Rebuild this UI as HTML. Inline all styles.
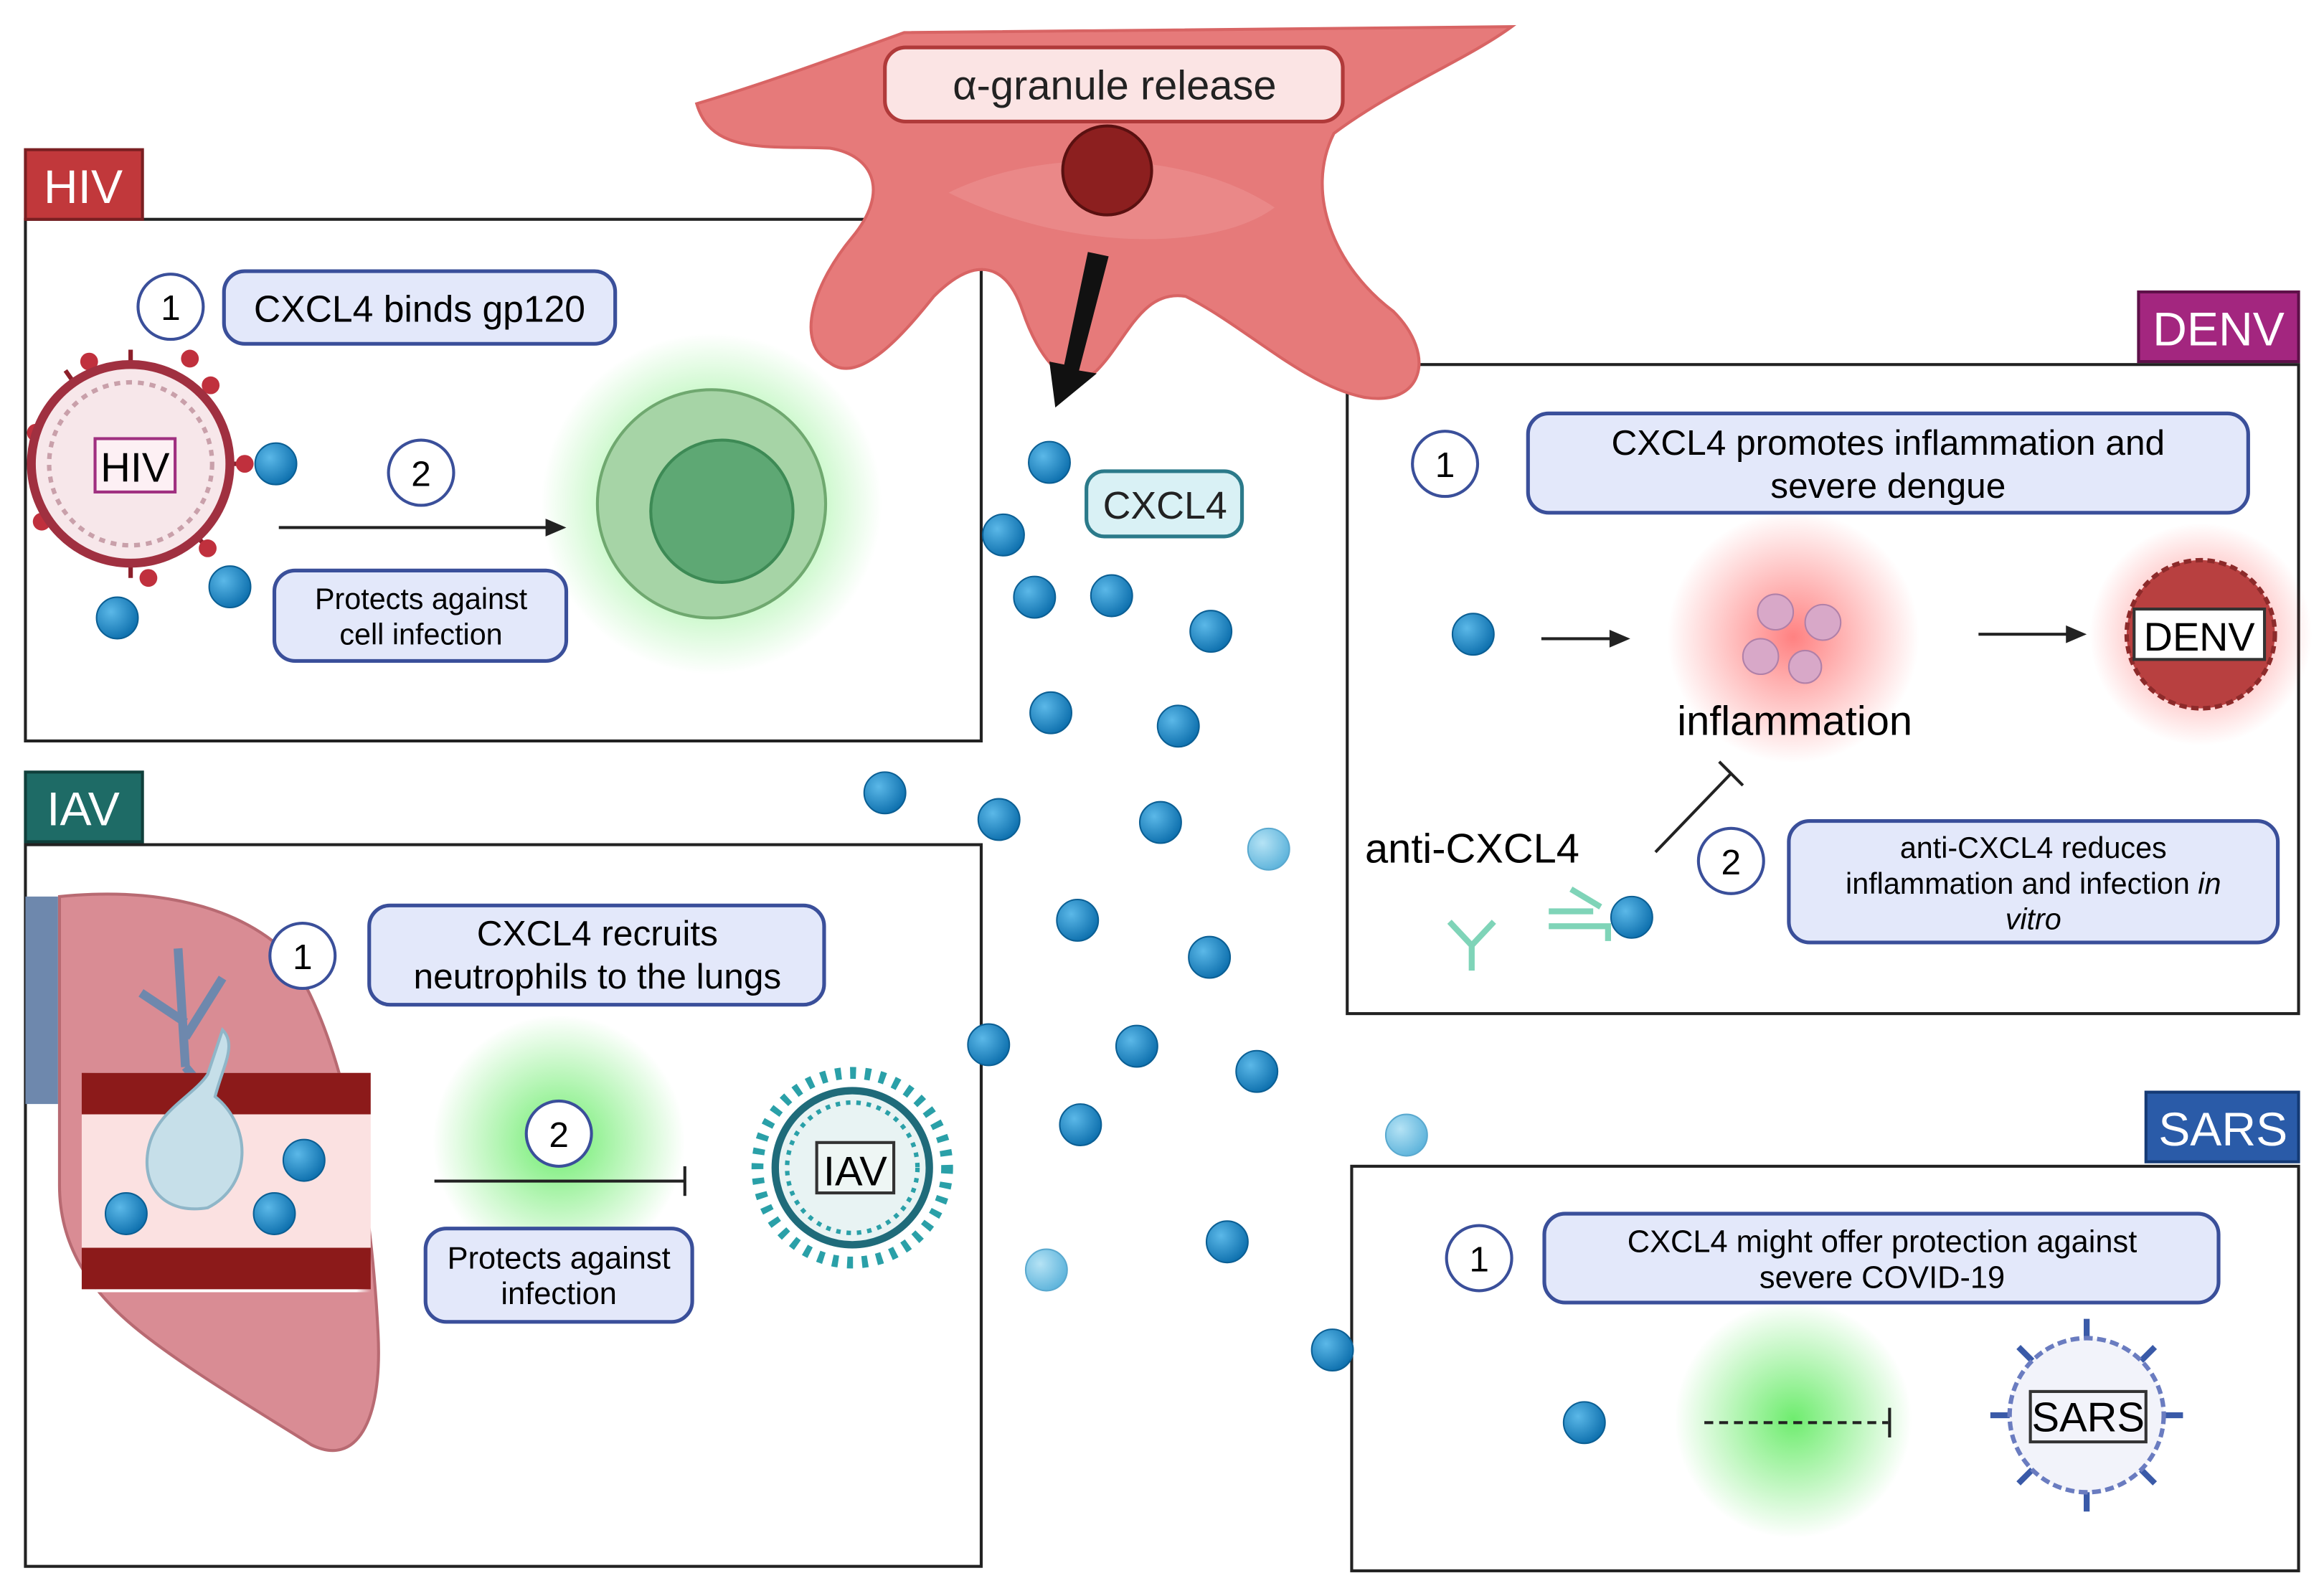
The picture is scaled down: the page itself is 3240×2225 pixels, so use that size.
<!DOCTYPE html>
<html><head><meta charset="utf-8"><style>
html,body{margin:0;padding:0;background:#fff}
svg{display:block}
text{font-family:"Liberation Sans",sans-serif}
</style></head><body>
<svg width="3240" height="2225" viewBox="0 0 1568 1077" xmlns="http://www.w3.org/2000/svg">
<defs>
<radialGradient id="dot" cx="35%" cy="35%" r="70%"><stop offset="0" stop-color="#5bb8e8"/><stop offset="1" stop-color="#0d6fad"/></radialGradient>
<radialGradient id="ldot" cx="35%" cy="35%" r="70%"><stop offset="0" stop-color="#b5e3f5"/><stop offset="1" stop-color="#5db3db"/></radialGradient>
<radialGradient id="gglow"><stop offset="0" stop-color="#3ee63e" stop-opacity=".75"/><stop offset="1" stop-color="#3ee63e" stop-opacity="0"/></radialGradient>
<radialGradient id="rglow"><stop offset="0" stop-color="#ff4b4b" stop-opacity=".7"/><stop offset="1" stop-color="#ff4b4b" stop-opacity="0"/></radialGradient>
<linearGradient id="band" x1="0" x2="1"><stop offset="0" stop-color="#fff" stop-opacity="0"/><stop offset=".05" stop-color="#fff" stop-opacity="1"/><stop offset=".95" stop-color="#fff" stop-opacity="1"/><stop offset="1" stop-color="#fff" stop-opacity="0"/></linearGradient>
</defs>
<rect width="1568" height="1077" fill="#fff"/>

<rect x="17" y="148" width="645" height="352" fill="#fff" stroke="#222" stroke-width="2"/>
<rect x="17" y="570" width="645" height="487" fill="#fff" stroke="#222" stroke-width="2"/>
<rect x="909" y="246" width="642" height="438" fill="#fff" stroke="#222" stroke-width="2"/>
<rect x="912" y="787" width="639" height="273" fill="#fff" stroke="#222" stroke-width="2"/>

<rect x="17" y="101" width="79" height="47" fill="#c1383b" stroke="#7a1f22" stroke-width="2"/>
<text x="56" y="137" font-size="32" fill="#fff" text-anchor="middle">HIV</text>
<rect x="17" y="521" width="79" height="47" fill="#1e6b66" stroke="#0f3f3b" stroke-width="2"/>
<text x="56" y="557" font-size="32" fill="#fff" text-anchor="middle">IAV</text>
<rect x="1443" y="197" width="108" height="47" fill="#a3267f" stroke="#5e1049" stroke-width="2"/>
<text x="1497" y="233" font-size="32" fill="#fff" text-anchor="middle">DENV</text>
<rect x="1448" y="737" width="103" height="47" fill="#2a5ba8" stroke="#143a75" stroke-width="2"/>
<text x="1500" y="773" font-size="32" fill="#fff" text-anchor="middle">SARS</text>

<path d="M470,70 C520,55 560,40 610,22 L1020,18 C990,40 940,60 900,90 C880,130 900,180 940,210 C970,240 960,275 920,268 C880,260 840,220 800,200 C770,195 760,230 740,250 C720,268 700,240 690,210 C680,180 660,170 630,200 C610,225 580,260 560,245 C535,230 550,190 575,160 C600,130 590,105 560,100 C520,98 480,105 470,70 Z" fill="#e67a7a" stroke="#d86464" stroke-width="2"/>
<path d="M640,130 C700,100 800,100 860,140 C820,170 720,170 640,130Z" fill="#ee9595" opacity=".5"/>
<rect x="597" y="32" width="309" height="50" rx="14" fill="#fbe4e4" stroke="#b03a3a" stroke-width="2.5"/>
<text x="752" y="67" font-size="28" fill="#222" text-anchor="middle">α-granule release</text>
<circle cx="747" cy="115" r="30" fill="#8c1f1f" stroke="#5a1010" stroke-width="2"/>
<polygon points="734,170 748,173 728,250 740,252 712,275 708,244 718,246" fill="#111"/>

<rect x="733" y="318" width="105" height="44" rx="12" fill="#d9f1f5" stroke="#2b7a8a" stroke-width="2.5"/>
<text x="786" y="350" font-size="26" fill="#222" text-anchor="middle">CXCL4</text>

<g fill="url(#dot)" stroke="#0b5f94" stroke-width="1">
<circle cx="708" cy="312" r="14"/><circle cx="677" cy="361" r="14"/><circle cx="698" cy="403" r="14"/><circle cx="750" cy="402" r="14"/><circle cx="817" cy="426" r="14"/><circle cx="709" cy="481" r="14"/><circle cx="795" cy="490" r="14"/><circle cx="597" cy="535" r="14"/><circle cx="674" cy="553" r="14"/><circle cx="783" cy="555" r="14"/><circle cx="727" cy="621" r="14"/><circle cx="816" cy="646" r="14"/><circle cx="667" cy="705" r="14"/><circle cx="767" cy="706" r="14"/><circle cx="848" cy="723" r="14"/><circle cx="729" cy="759" r="14"/><circle cx="828" cy="838" r="14"/><circle cx="899" cy="911" r="14"/>
<circle cx="186" cy="313" r="14"/><circle cx="155" cy="396" r="14"/><circle cx="79" cy="417" r="14"/>
<circle cx="994" cy="428" r="14"/><circle cx="1101" cy="619" r="14"/><circle cx="1069" cy="960" r="14"/>
</g>
<g fill="url(#ldot)" stroke="#5aa9cf" stroke-width="1">
<circle cx="856" cy="573" r="14"/><circle cx="949" cy="766" r="14"/><circle cx="706" cy="857" r="14"/>
</g>

<circle cx="115" cy="207" r="22" fill="#fff" stroke="#3a4f9a" stroke-width="2"/>
<text x="115" y="216" font-size="24" text-anchor="middle">1</text>
<rect x="151" y="183" width="264" height="49" rx="14" fill="#e3e8fa" stroke="#3a4f9a" stroke-width="2.5"/>
<text x="283" y="217" font-size="25" text-anchor="middle">CXCL4 binds gp120</text>
<g stroke="#8c1f2a" stroke-width="3">
<line x1="88" y1="313" x2="88" y2="236"/><line x1="88" y1="313" x2="142" y2="260"/><line x1="88" y1="313" x2="165" y2="313"/><line x1="88" y1="313" x2="140" y2="370"/><line x1="88" y1="313" x2="88" y2="390"/><line x1="88" y1="313" x2="28" y2="355"/><line x1="88" y1="313" x2="24" y2="292"/><line x1="88" y1="313" x2="44" y2="250"/>
</g>
<g fill="#c0303d"><circle cx="60" cy="244" r="6"/><circle cx="128" cy="242" r="6"/><circle cx="142" cy="260" r="6"/><circle cx="165" cy="313" r="6"/><circle cx="140" cy="370" r="6"/><circle cx="100" cy="390" r="6"/><circle cx="28" cy="352" r="6"/><circle cx="24" cy="292" r="6"/></g>
<circle cx="88" cy="313" r="67" fill="#f7e7ea" stroke="#a03040" stroke-width="6"/>
<circle cx="88" cy="313" r="55" fill="none" stroke="#c9a0aa" stroke-width="3" stroke-dasharray="4 4"/>
<rect x="64" y="296" width="54" height="36" fill="#fdf0f4" stroke="#a03080" stroke-width="2"/>
<text x="91" y="325" font-size="28" text-anchor="middle">HIV</text>
<circle cx="480" cy="340" r="115" fill="url(#gglow)"/>
<circle cx="480" cy="340" r="77" fill="#a6d4a6" stroke="#6fa86f" stroke-width="2"/>
<circle cx="487" cy="345" r="48" fill="#5ea874" stroke="#3d8a55" stroke-width="2"/>
<line x1="188" y1="356" x2="370" y2="356" stroke="#222" stroke-width="2"/>
<polygon points="382,356 368,350 368,362" fill="#222"/>
<circle cx="284" cy="319" r="22" fill="#fff" stroke="#3a4f9a" stroke-width="2"/>
<text x="284" y="328" font-size="24" text-anchor="middle">2</text>
<rect x="185" y="385" width="197" height="61" rx="14" fill="#e3e8fa" stroke="#3a4f9a" stroke-width="2.5"/>
<text x="284" y="411" font-size="20" text-anchor="middle">Protects against</text>
<text x="284" y="435" font-size="20" text-anchor="middle">cell infection</text>

<rect x="17" y="605" width="22" height="140" fill="#6e88ad"/>
<path d="M40,605 C90,600 150,605 190,640 C230,690 250,800 255,900 C258,960 240,990 210,975 C170,950 120,920 90,895 C60,870 40,840 40,800 Z" fill="#d98c94" stroke="#b86a72" stroke-width="2"/>
<path d="M120,640 L125,720 M125,690 L95,670 M125,700 L150,660 M125,720 L150,750" stroke="#6e88ad" stroke-width="6" fill="none"/>
<rect x="55" y="724" width="195" height="148" fill="url(#band)"/>
<rect x="55" y="724" width="195" height="28" fill="#8c1a1a"/>
<rect x="55" y="842" width="195" height="28" fill="#8c1a1a"/>
<rect x="55" y="752" width="195" height="90" fill="#fbe1e1"/>
<path d="M150,695 C160,705 150,720 145,740 C170,760 170,800 140,815 C110,820 95,800 100,775 C105,750 130,740 140,725 Z" fill="#c6dfe9" stroke="#8fb6c8" stroke-width="2"/>
<g fill="url(#dot)" stroke="#0b5f94"><circle cx="205" cy="783" r="14"/><circle cx="85" cy="819" r="14"/><circle cx="185" cy="819" r="14"/></g>
<circle cx="204" cy="645" r="22" fill="#fff" stroke="#3a4f9a" stroke-width="2"/>
<text x="204" y="654" font-size="24" text-anchor="middle">1</text>
<rect x="249" y="611" width="307" height="67" rx="14" fill="#e3e8fa" stroke="#3a4f9a" stroke-width="2.5"/>
<text x="403" y="638" font-size="24" text-anchor="middle">CXCL4 recruits</text>
<text x="403" y="667" font-size="24" text-anchor="middle">neutrophils to the lungs</text>
<circle cx="377" cy="770" r="85" fill="url(#gglow)"/>
<circle cx="377" cy="765" r="22" fill="#fff" stroke="#3a4f9a" stroke-width="2"/>
<text x="377" y="774" font-size="24" text-anchor="middle">2</text>
<line x1="293" y1="797" x2="462" y2="797" stroke="#222" stroke-width="2"/>
<line x1="462" y1="787" x2="462" y2="807" stroke="#222" stroke-width="2"/>
<rect x="287" y="829" width="180" height="63" rx="14" fill="#e3e8fa" stroke="#3a4f9a" stroke-width="2.5"/>
<text x="377" y="856" font-size="21" text-anchor="middle">Protects against</text>
<text x="377" y="880" font-size="21" text-anchor="middle">infection</text>
<circle cx="575" cy="788" r="64" fill="none" stroke="#2aa0a8" stroke-width="8" stroke-dasharray="4 6"/>
<circle cx="575" cy="788" r="52" fill="#e8f3f3" stroke="#1f6b7a" stroke-width="5"/>
<circle cx="575" cy="788" r="44" fill="none" stroke="#2aa0a8" stroke-width="3" stroke-dasharray="3 4"/>
<rect x="551" y="771" width="52" height="34" fill="#eef6f4" stroke="#333" stroke-width="2"/>
<text x="577" y="800" font-size="28" text-anchor="middle">IAV</text>

<circle cx="975" cy="313" r="22" fill="#fff" stroke="#3a4f9a" stroke-width="2"/>
<text x="975" y="322" font-size="24" text-anchor="middle">1</text>
<rect x="1031" y="279" width="486" height="67" rx="14" fill="#e3e8fa" stroke="#3a4f9a" stroke-width="2.5"/>
<text x="1274" y="307" font-size="24" text-anchor="middle">CXCL4 promotes inflammation and</text>
<text x="1274" y="336" font-size="24" text-anchor="middle">severe dengue</text>
<line x1="1040" y1="431" x2="1088" y2="431" stroke="#222" stroke-width="2"/>
<polygon points="1100,431 1086,425 1086,437" fill="#222"/>
<circle cx="1210" cy="430" r="85" fill="url(#rglow)"/>
<g fill="#d8a8c8" stroke="#b080a8"><circle cx="1198" cy="413" r="12"/><circle cx="1230" cy="420" r="12"/><circle cx="1188" cy="443" r="12"/><circle cx="1218" cy="450" r="11"/></g>
<text x="1211" y="496" font-size="28" text-anchor="middle">inflammation</text>
<line x1="1335" y1="428" x2="1396" y2="428" stroke="#222" stroke-width="2"/>
<polygon points="1408,428 1394,422 1394,434" fill="#222"/>
<circle cx="1485" cy="428" r="75" fill="url(#rglow)"/>
<circle cx="1485" cy="428" r="50" fill="#b84040" stroke="#8c2a2a" stroke-width="3" stroke-dasharray="5 3"/>
<rect x="1440" y="411" width="88" height="34" fill="#fff" stroke="#333" stroke-width="2"/>
<text x="1484" y="439" font-size="27" text-anchor="middle">DENV</text>
<text x="921" y="582" font-size="28">anti-CXCL4</text>
<line x1="1117" y1="575" x2="1168" y2="522" stroke="#222" stroke-width="2"/>
<line x1="1160" y1="514" x2="1176" y2="530" stroke="#222" stroke-width="2"/>
<g stroke="#7fd4b8" stroke-width="4" fill="none"><path d="M993,655 L993,638 L978,622 M993,638 L1008,622"/><path d="M1045,615 L1075,615 M1045,625 L1085,625 L1085,635 M1060,600 L1080,612"/></g>
<circle cx="1168" cy="581" r="22" fill="#fff" stroke="#3a4f9a" stroke-width="2"/>
<text x="1168" y="590" font-size="24" text-anchor="middle">2</text>
<rect x="1207" y="554" width="330" height="82" rx="14" fill="#e3e8fa" stroke="#3a4f9a" stroke-width="2.5"/>
<text x="1372" y="579" font-size="20" text-anchor="middle">anti-CXCL4 reduces</text>
<text x="1372" y="603" font-size="20" text-anchor="middle">inflammation and infection <tspan font-style="italic">in</tspan></text>
<text x="1372" y="627" font-size="20" text-anchor="middle" font-style="italic">vitro</text>

<circle cx="998" cy="849" r="22" fill="#fff" stroke="#3a4f9a" stroke-width="2"/>
<text x="998" y="858" font-size="24" text-anchor="middle">1</text>
<rect x="1042" y="819" width="455" height="60" rx="14" fill="#e3e8fa" stroke="#3a4f9a" stroke-width="2.5"/>
<text x="1270" y="845" font-size="21" text-anchor="middle">CXCL4 might offer protection against</text>
<text x="1270" y="869" font-size="21" text-anchor="middle">severe COVID-19</text>
<circle cx="1210" cy="958" r="80" fill="url(#gglow)"/>
<line x1="1150" y1="960" x2="1274" y2="960" stroke="#222" stroke-width="2" stroke-dasharray="6 4"/>
<line x1="1275" y1="950" x2="1275" y2="970" stroke="#222" stroke-width="2"/>
<g stroke="#3a5aa8" stroke-width="4">
<line x1="1408" y1="890" x2="1408" y2="1020"/><line x1="1343" y1="955" x2="1473" y2="955"/><line x1="1362" y1="909" x2="1454" y2="1001"/><line x1="1454" y1="909" x2="1362" y2="1001"/>
</g>
<circle cx="1408" cy="955" r="52" fill="#f2f3fa" stroke="#6a7cc0" stroke-width="3" stroke-dasharray="6 3"/>
<rect x="1370" y="939" width="78" height="34" fill="#f2f3fa" stroke="#333" stroke-width="2"/>
<text x="1409" y="966" font-size="28" text-anchor="middle">SARS</text>
</svg>
</body></html>
